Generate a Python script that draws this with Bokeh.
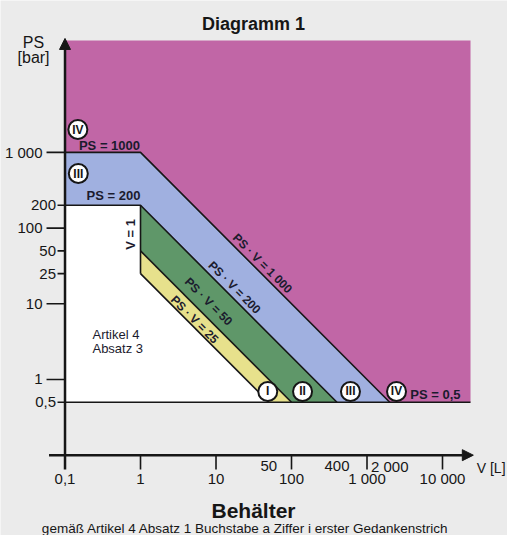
from bokeh.plotting import figure
from bokeh.models import Range1d, Arrow, NormalHead
from bokeh.core.properties import value
from bokeh.embed import file_html
from bokeh.resources import INLINE

# ---------------- data ----------------
V_MIN = 0.1          # left edge of the diagram, litres
V_MAX = 23500        # right edge of the coloured field
PS_MIN = 0.5         # PS = 0,5 bar lower limit
PS_MAX = 30000       # top of the coloured field
PS_LIMIT_IV = 1000   # PS = 1000
PS_LIMIT_III = 200   # PS = 200
V_LIMIT = 1          # V = 1
PSV_IV = 1000        # PS*V = 1000
PSV_III = 200        # PS*V = 200
PSV_II = 50          # PS*V = 50
PSV_I = 25           # PS*V = 25

y_tick_values = [1000, 200, 100, 50, 25, 10, 1, 0.5]
y_tick_labels = ["1 000", "200", "100", "50", "25", "10", "1", "0,5"]
y_tick_decade = [True, False, True, False, False, True, True, False]

x_tick_values = [0.1, 1, 10, 100, 1000, 10000]
x_tick_labels = ["0,1", "1", "10", "100", "1 000", "10 000"]
x_extra_values = [50, 400, 2000]
x_extra_labels = ["50", "400", "2 000"]

category_names = ["I", "II", "III", "IV"]

# ---------------- styling ----------------
FONT = value("Liberation Sans")
INK = "#161616"
LBL = "#1b1b2e"
BG = "#ebebeb"
PINK = "#c166a6"
BLUE = "#a0b0e0"
GREEN = "#5f9769"
YELLOW = "#e7e18c"

p = figure(width=507, height=535, x_axis_type="log", y_axis_type="log",
           x_range=Range1d(0.01398, 72600), y_range=Range1d(0.00869, 101500),
           output_backend="svg", toolbar_location=None,
           x_axis_location=None, y_axis_location=None, min_border=0,
           background_fill_color=BG, border_fill_color=BG, outline_line_color=None)
p.grid.visible = False

# ---------------- coloured fields ----------------
pink_xs = [V_MIN, V_MIN, V_MAX, V_MAX]
pink_ys = [PS_MIN, PS_MAX, PS_MAX, PS_MIN]
blue_xs = [V_MIN, V_MIN, V_LIMIT, PSV_IV / PS_MIN]
blue_ys = [PS_MIN, PS_LIMIT_IV, PSV_IV / V_LIMIT, PS_MIN]
green_xs = [V_LIMIT, PSV_III / PS_MIN, PSV_II / PS_MIN, V_LIMIT]
green_ys = [PSV_III / V_LIMIT, PS_MIN, PS_MIN, PSV_II / V_LIMIT]
yellow_xs = [V_LIMIT, PSV_II / PS_MIN, PSV_I / PS_MIN, V_LIMIT]
yellow_ys = [PSV_II / V_LIMIT, PS_MIN, PS_MIN, PSV_I / V_LIMIT]
white_xs = [V_MIN, V_MIN, V_LIMIT, V_LIMIT, PSV_I / PS_MIN]
white_ys = [PS_MIN, PS_LIMIT_III, PS_LIMIT_III, PSV_I / V_LIMIT, PS_MIN]

p.patches(xs=[pink_xs, blue_xs, green_xs, yellow_xs, white_xs],
          ys=[pink_ys, blue_ys, green_ys, yellow_ys, white_ys],
          fill_color=[PINK, BLUE, GREEN, YELLOW, "#ffffff"], line_color=None)

# ---------------- boundary lines ----------------
bound_xs = [
    [V_MIN, V_LIMIT, PSV_IV / PS_MIN],
    [V_MIN, V_LIMIT, PSV_III / PS_MIN],
    [V_LIMIT, V_LIMIT],
    [V_LIMIT, PSV_II / PS_MIN],
    [V_LIMIT, PSV_I / PS_MIN],
    [V_MIN, V_MAX],
]
bound_ys = [
    [PS_LIMIT_IV, PS_LIMIT_IV, PS_MIN],
    [PS_LIMIT_III, PS_LIMIT_III, PS_MIN],
    [PS_LIMIT_III, PSV_I / V_LIMIT],
    [PSV_II / V_LIMIT, PS_MIN],
    [PSV_I / V_LIMIT, PS_MIN],
    [PS_MIN, PS_MIN],
]
p.multi_line(xs=bound_xs, ys=bound_ys, line_color=INK, line_width=1.6)

# ---------------- axes ----------------
axis_head = dict(size=11, line_color=INK, fill_color=INK, line_width=1)
p.add_layout(Arrow(end=NormalHead(**axis_head), x_start=V_MIN, y_start=0.0648,
                   x_end=V_MIN, y_end=32000, line_color=INK, line_width=2.5))
p.add_layout(Arrow(end=NormalHead(**axis_head), x_start=0.0614, y_start=0.1,
                   x_end=25600, y_end=0.1, line_color=INK, line_width=2.5))

# y ticks
p.segment(x0=[V_MIN] * len(y_tick_values),
          x1=[0.0569 if d else 0.0796 for d in y_tick_decade],
          y0=y_tick_values, y1=y_tick_values, line_color=INK, line_width=1.6)
p.text(x=[0.0504 if d else 0.0760 for d in y_tick_decade], y=y_tick_values,
       text=y_tick_labels, text_font=FONT, text_font_size="15px",
       text_align="right", text_baseline="middle", text_color=INK)

# x ticks
p.segment(x0=x_tick_values[1:], x1=x_tick_values[1:],
          y0=[0.1] * (len(x_tick_values) - 1), y1=[0.0648] * (len(x_tick_values) - 1),
          line_color=INK, line_width=1.6)
p.text(x=x_tick_values, y=[0.0492] * len(x_tick_values), text=x_tick_labels,
       text_font=FONT, text_font_size="15px", text_align="center",
       text_baseline="middle", text_color=INK)
p.text(x=x_extra_values, y=[0.0709] * len(x_extra_values), text=x_extra_labels,
       text_font=FONT, text_font_size="15px", text_align="center",
       text_baseline="middle", text_color=INK)

# axis titles
p.text(x=[0.0383, 0.0383], y=[28300, 17900], text=["PS", "[bar]"],
       text_font=FONT, text_font_size="16px", text_align="center",
       text_baseline="middle", text_color=INK)
p.text(x=[28400], y=[0.0667], text=["V [L]"], text_font=FONT, text_font_size="14px",
       text_align="left", text_baseline="middle", text_color=INK)

# title and bottom captions
p.text(x=[31.4], y=[50400], text=["Diagramm 1"], text_font=FONT, text_font_size="18px",
       text_font_style="bold", text_align="center", text_baseline="middle", text_color=INK)
p.text(x=[31.4], y=[0.0186], text=["Behälter"], text_font=FONT, text_font_size="21px",
       text_font_style="bold", text_align="center", text_baseline="middle", text_color=INK)
p.text(x=[26.0], y=[0.01076],
       text=["gemäß Artikel 4  Absatz 1 Buchstabe a Ziffer i erster Gedankenstrich"],
       text_font=FONT, text_font_size="13.5px", text_align="center",
       text_baseline="middle", text_color=INK)

# ---------------- in-field labels ----------------
p.text(x=[0.388, 0.439, 8070], y=[1233, 270, 0.634],
       text=["PS = 1000", "PS = 200", "PS = 0,5"],
       text_font=FONT, text_font_size="13px", text_font_style="bold",
       text_align="center", text_baseline="middle", text_color=LBL)
p.text(x=[0.737], y=[82.3], text=["V = 1"], angle=1.5708,
       text_font=FONT, text_font_size="13px", text_font_style="bold",
       text_align="center", text_baseline="middle", text_color=LBL)
p.text(x=[41.3, 17.6, 7.96, 5.19], y=[34.1, 16.4, 10.7, 6.2],
       text=["PS · V = 1 000", "PS · V = 200", "PS · V = 50", "PS · V = 25"],
       angle=-0.787, text_font=FONT, text_font_size="12px", text_font_style="bold",
       text_align="center", text_baseline="middle", text_color=LBL)
p.text(x=[0.231, 0.231], y=[3.93, 2.57], text=["Artikel 4", "Absatz 3"],
       text_font=FONT, text_font_size="13px", text_align="left",
       text_baseline="middle", text_color=LBL)

# circled category numerals
circle_x = [48.5, 140, 604, 2460, 0.148, 0.15]
circle_y = [0.694, 0.694, 0.694, 0.694, 2006, 526]
circle_t = category_names + ["IV", "III"]
p.scatter(x=circle_x, y=circle_y, size=19, marker="circle",
          fill_color="#ffffff", line_color=INK, line_width=2)
p.text(x=circle_x, y=circle_y, text=circle_t, text_font=FONT, text_font_size="12px",
       text_font_style="bold", text_align="center", text_baseline="middle",
       text_color=INK)

open("out.html", "w").write(file_html(p, INLINE))
